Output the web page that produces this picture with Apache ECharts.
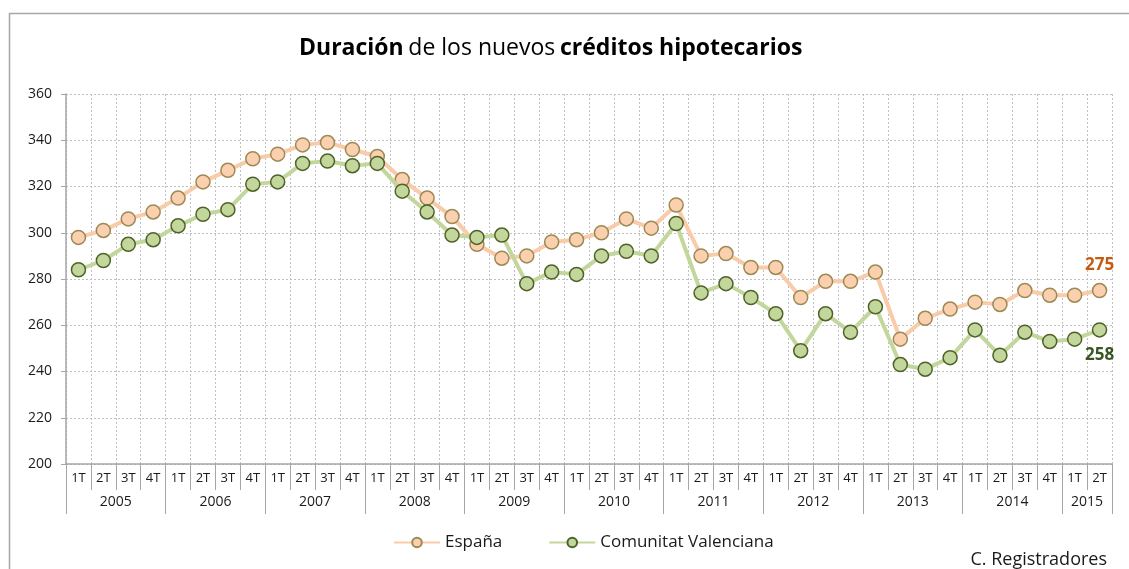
<!DOCTYPE html>
<html>
<head>
<meta charset="utf-8">
<script src="https://cdn.jsdelivr.net/npm/echarts@6/dist/echarts.min.js"></script>
<style>
  html, body { margin: 0; padding: 0; background: #fff; }
  #chart { width: 1129px; height: 569px; }
</style>
</head>
<body>
<div id="chart"></div>
<script>
// categories
const years = ['2005', '2006', '2007', '2008', '2009', '2010', '2011', '2012', '2013', '2014', '2015']
const quarters = ['1T', '2T', '3T', '4T']
const yTicks = [200, 220, 240, 260, 280, 300, 320, 340, 360]

// series values (meses)
const espana = [298, 301, 306, 309, 315, 322, 327, 332, 334, 338, 339, 336,
  333, 323, 315, 307, 295, 289, 290, 296, 297, 300, 306, 302,
  312, 290, 291, 285, 285, 272, 279, 279, 283, 254, 263, 267,
  270, 269, 275, 273, 273, 275]
const valenciana = [284, 288, 295, 297, 303, 308, 310, 321, 322, 330, 331, 329,
  330, 318, 309, 299, 298, 299, 278, 283, 282, 290, 292, 290,
  304, 274, 278, 272, 265, 249, 265, 257, 268, 243, 241, 246,
  258, 247, 257, 253, 254, 258]

const fontFamily = '"Open Sans", "Noto Sans", sans-serif'
const axisGray = '#a6a6a6'
const textColor = '#1a1a1a'

// 2005 1T ... 2015 2T
const quarterCats = []
years.forEach(() => {
  quarters.forEach((q) => {
    if (quarterCats.length < espana.length) quarterCats.push(q)
  })
})
const nQ = quarterCats.length
const last = nQ - 1

// year group edges / centres in quarter units (for the second label row)
const yearEdges = []
const yearCentres = []
years.forEach((y, i) => {
  const start = i * 4
  const end = Math.min(start + 4, nQ)
  yearEdges.push(start)
  yearCentres.push((start + end) / 2)
})
yearEdges.push(nQ)

function endLabel (color, position) {
  return {
    show: true,
    position: position,
    distance: 9,
    color: color,
    fontSize: 17,
    fontWeight: 'bold',
    fontFamily: fontFamily,
    formatter: (p) => (p.dataIndex === last ? String(p.value) : '')
  }
}

const chart = echarts.init(document.getElementById('chart'))
chart.setOption({
  backgroundColor: '#fff',
  animation: false,
  textStyle: { fontFamily: fontFamily },
  graphic: [{
    type: 'rect',
    left: 7,
    top: 11,
    shape: { width: 1200, height: 600 },
    style: { fill: 'none', stroke: '#a6a6a6', lineWidth: 1.5 },
    silent: true
  }],
  title: [{
    text: '{b|Duración} {n|de los nuevos} {b|créditos hipotecarios}',
    left: 294,
    top: 32,
    textStyle: {
      rich: {
        b: { fontSize: 23, fontWeight: 'bold', color: '#000', fontFamily: fontFamily },
        n: { fontSize: 23, fontWeight: 'normal', color: '#000', fontFamily: fontFamily }
      }
    }
  }, {
    text: 'C. Registradores',
    right: 17,
    top: 546,
    textStyle: { fontSize: 18, fontWeight: 'normal', color: textColor, fontFamily: fontFamily }
  }],
  legend: {
    bottom: 13,
    left: 388,
    itemWidth: 46,
    itemHeight: 12,
    itemGap: 46,
    textStyle: { fontSize: 17, color: textColor, fontFamily: fontFamily },
    data: ['España', 'Comunitat Valenciana']
  },
  grid: {
    left: 66,
    right: 17,
    top: 94,
    bottom: 105
  },
  xAxis: [{
    type: 'category',
    data: quarterCats,
    position: 'bottom',
    boundaryGap: true,
    axisLine: { show: true, lineStyle: { color: axisGray, width: 1.5 } },
    axisTick: { show: true, interval: 0, length: 26, lineStyle: { color: axisGray } },
    axisLabel: { interval: 0, margin: 14, color: textColor, fontSize: 13, verticalAlign: 'middle', fontFamily: fontFamily },
    splitLine: { show: true, interval: 0, lineStyle: { color: '#c0c0c0', type: [2, 2] } }
  }, {
    type: 'value',
    min: 0,
    max: nQ,
    position: 'bottom',
    axisLine: { show: false },
    axisTick: { show: true, customValues: yearEdges, length: 50, lineStyle: { color: axisGray } },
    axisLabel: {
      customValues: yearCentres,
      formatter: (v) => years[Math.floor(v / 4)],
      margin: 38,
      color: textColor,
      fontSize: 14,
      verticalAlign: 'middle',
      fontFamily: fontFamily
    },
    splitLine: { show: false }
  }],
  yAxis: {
    type: 'value',
    min: yTicks[0],
    max: yTicks[yTicks.length - 1],
    interval: yTicks[1] - yTicks[0],
    axisLine: { show: true, lineStyle: { color: axisGray, width: 1.5 } },
    axisTick: { show: true, length: 5, lineStyle: { color: axisGray } },
    axisLabel: { color: textColor, fontSize: 14, margin: 14, fontFamily: fontFamily },
    splitLine: { show: true, lineStyle: { color: '#c0c0c0', type: [2, 2] } }
  },
  series: [{
    name: 'España',
    type: 'line',
    data: espana,
    symbol: 'circle',
    symbolSize: 14,
    lineStyle: { color: '#f9cba8', width: 4 },
    itemStyle: { color: '#fbd0ae', borderColor: '#9c8955', borderWidth: 1.5 },
    label: endLabel('#c55a11', 'top'),
    z: 2
  }, {
    name: 'Comunitat Valenciana',
    type: 'line',
    data: valenciana,
    symbol: 'circle',
    symbolSize: 14,
    lineStyle: { color: '#c3d69b', width: 4 },
    itemStyle: { color: '#c3d69b', borderColor: '#4f6228', borderWidth: 1.5 },
    label: endLabel('#375623', 'bottom'),
    z: 3
  }]
})
</script>
</body>
</html>
